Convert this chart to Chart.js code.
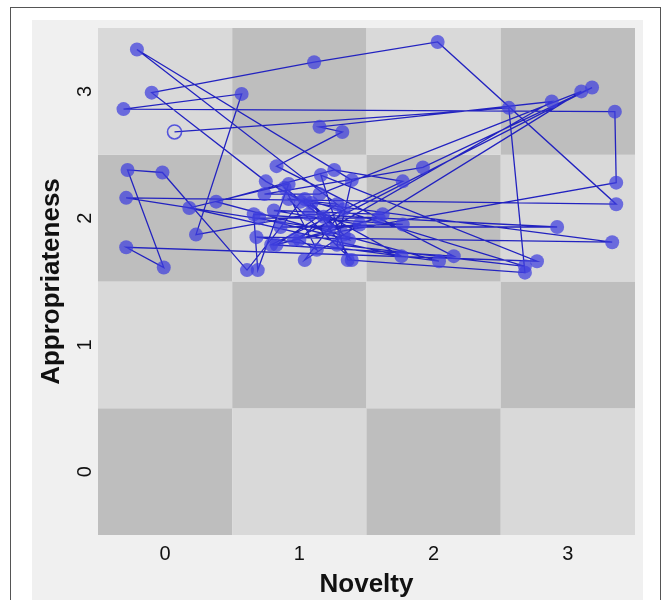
<!DOCTYPE html>
<html>
<head>
<meta charset="utf-8">
<script src="https://cdn.jsdelivr.net/npm/chart.js@4"></script>
<style>
  html, body { margin: 0; padding: 0; background: #ffffff; }
  #wrap { width: 667px; height: 600px; position: relative; }
</style>
</head>
<body>
<div id="wrap"><canvas id="c" width="667" height="600"></canvas></div>
<script>
// ---- data (Novelty, Appropriateness) visited in order ----
const noveltyValues = [
  0.07, 2.56, 2.68, 1.36, 1.16, 2.77, -0.29, -0.01, -0.28, -0.02,
  0.61, 1.01, 3.33, 0.68, 2.04, 0.38, 1.26, 1.77, 0.79, 2.15,
  0.83, 1.32, 1.15, 2.88, 1.22, -0.29, 3.36, 2.03, 1.11, -0.10,
  0.75, 1.76, 0.18, 0.92, 0.69, 0.66, 1.77, 0.86, 2.92, 1.07,
  0.23, 0.57, -0.31, 3.35, 3.36, 0.96, 3.18, 1.92, 0.74, 1.15,
  3.10, 1.62, 0.81, 1.45, 1.04, 1.33, -0.21, 1.39, 1.28, 2.68,
  1.04, 1.37, 0.70, 1.59, 0.83, 1.28, 0.92, 1.39, 1.09, 1.33,
  0.89, 1.13, 1.00, 1.18
];
const appropriatenessValues = [
  2.68, 2.87, 1.57, 1.67, 2.34, 1.66, 1.77, 1.61, 2.38, 2.36,
  1.59, 2.13, 1.81, 1.85, 1.66, 2.13, 2.38, 2.29, 1.79, 1.70,
  2.41, 2.68, 2.72, 2.92, 1.91, 2.16, 2.11, 3.39, 3.23, 2.99,
  2.29, 1.70, 2.08, 2.27, 1.59, 2.03, 1.95, 1.93, 1.93, 2.03,
  1.87, 2.98, 2.86, 2.84, 2.28, 1.83, 3.03, 2.40, 2.19, 2.19,
  3.00, 2.03, 2.06, 1.95, 1.67, 2.07, 3.33, 2.30, 1.79, 1.62,
  2.15, 1.83, 2.00, 2.00, 1.79, 2.11, 2.15, 1.67, 2.12, 1.87,
  2.24, 1.75, 1.83, 2.01
];
const xTickLabels = [0, 1, 2, 3];
const yTickLabels = [0, 1, 2, 3];
const xTitle = 'Novelty';
const yTitle = 'Appropriateness';

const points = noveltyValues.map((v, i) => ({ x: v, y: appropriatenessValues[i] }));

const bgPlugin = {
  id: 'bg',
  beforeDraw(chart) {
    const ctx = chart.ctx;
    const xs = chart.scales.x, ys = chart.scales.y;
    ctx.save();
    ctx.fillStyle = '#ffffff';
    ctx.fillRect(0, 0, chart.width, chart.height);
    ctx.fillStyle = '#f0f0f0';
    ctx.fillRect(32, 20, 611, 580);
    ctx.strokeStyle = '#555555';
    ctx.lineWidth = 1;
    ctx.strokeRect(10.5, 7.5, 650, 600);
    for (let i = 0; i < xTickLabels.length; i++) {
      for (let j = 0; j < yTickLabels.length; j++) {
        const xv = xTickLabels[i], yv = yTickLabels[j];
        const x0 = xs.getPixelForValue(xv - 0.5), x1 = xs.getPixelForValue(xv + 0.5);
        const y0 = ys.getPixelForValue(yv + 0.5), y1 = ys.getPixelForValue(yv - 0.5);
        ctx.fillStyle = ((i + j) % 2 === 0) ? '#bebebe' : '#d9d9d9';
        ctx.fillRect(x0, y0, x1 - x0, y1 - y0);
      }
    }
    ctx.restore();
  }
};

new Chart(document.getElementById('c'), {
  type: 'scatter',
  data: {
    datasets: [{
      data: points,
      showLine: true,
      borderColor: '#2222c0',
      borderWidth: 1.3,
      pointRadius: 7,
      pointHoverRadius: 7,
      pointBorderWidth: (c) => c.dataIndex === 0 ? 1.6 : 0,
      pointBorderColor: 'rgba(60,60,220,0.85)',
      pointBackgroundColor: (c) => c.dataIndex === 0 ? 'rgba(0,0,0,0)' : 'rgba(62,62,222,0.72)'
    }]
  },
  options: {
    responsive: false,
    animation: false,
    layout: { padding: { top: 28, right: 32, left: 0, bottom: 0 } },
    plugins: { legend: { display: false }, tooltip: { enabled: false } },
    scales: {
      x: {
        type: 'linear', min: -0.5, max: 3.5,
        afterBuildTicks: (s) => { s.ticks = xTickLabels.map(v => ({ value: v })); },
        afterFit: (s) => { s.height = 65; },
        grid: { display: false, drawTicks: false },
        border: { display: false },
        ticks: { padding: 7, color: '#111', font: { family: 'Liberation Sans, Arial', size: 20 }, callback: (v) => String(v) },
        title: { display: true, text: xTitle, color: '#111', padding: { top: 0, bottom: 0 },
                 font: { family: 'Liberation Sans, Arial', size: 26, weight: 'bold' } }
      },
      y: {
        type: 'linear', min: -0.5, max: 3.5,
        afterBuildTicks: (s) => { s.ticks = yTickLabels.map(v => ({ value: v })); },
        afterFit: (s) => { s.width = 98; },
        grid: { display: false, drawTicks: false },
        border: { display: false },
        ticks: { padding: 7, minRotation: 90, maxRotation: 90, crossAlign: 'center', color: '#111',
                 font: { family: 'Liberation Sans, Arial', size: 20 }, callback: (v) => String(v) },
        title: { display: true, text: yTitle, color: '#111', padding: { top: 36, bottom: 0 },
                 font: { family: 'Liberation Sans, Arial', size: 26, weight: 'bold' } }
      }
    }
  },
  plugins: [bgPlugin]
});
</script>
</body>
</html>
